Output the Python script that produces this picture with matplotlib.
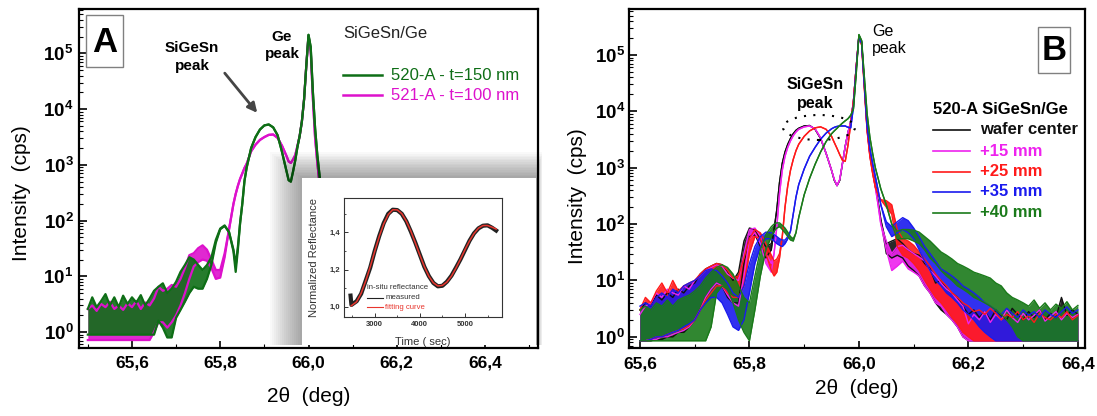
import matplotlib
matplotlib.use('Agg')
import matplotlib.pyplot as plt
import matplotlib.patches as mpatches
from matplotlib.lines import Line2D
from matplotlib.ticker import FixedLocator, LogLocator, NullFormatter
import numpy as np

plt.rcParams['font.family'] = 'Liberation Sans'
plt.rcParams['mathtext.fontset'] = 'custom'
plt.rcParams['mathtext.rm'] = 'Liberation Sans'
plt.rcParams['mathtext.bf'] = 'Liberation Sans:bold'

# ---------------- panel A : two layers, envelope of the counts (lo / hi) ----------------
theta_a = [65.50, 65.51, 65.52, 65.53, 65.54, 65.55, 65.56, 65.57, 65.58, 65.59,
           65.60, 65.61, 65.62, 65.63, 65.64, 65.65, 65.66, 65.67, 65.68, 65.69,
           65.70, 65.71, 65.72, 65.73, 65.74, 65.75, 65.76, 65.77, 65.78, 65.79,
           65.80, 65.81, 65.82, 65.83, 65.835, 65.84, 65.845, 65.85, 65.855, 65.86,
           65.87, 65.88, 65.89, 65.90, 65.91, 65.92, 65.93, 65.94, 65.95, 65.955,
           65.96, 65.965, 65.97, 65.975, 65.98, 65.985, 65.99, 65.995, 66.00, 66.005,
           66.01, 66.015, 66.02, 66.025, 66.03, 66.04]

s520_hi = [2.6, 4.2, 2.8, 3.6, 4.8, 3.0, 4.2, 2.8, 4.5, 3.2,
           4.2, 3.4, 4.6, 3.0, 4.0, 5.5, 6.5, 7.5, 5.0, 6.0,
           8.0, 12, 16, 22, 20, 16, 13, 16, 22, 45,
           72, 82, 62, 30, 16, 34, 90, 200, 520, 900,
           2000, 3150, 4300, 5100, 5300, 4700, 3400, 1700, 780, 530,
           500, 760, 1200, 2100, 3300, 6000, 15000, 60000, 215000, 130000,
           20000, 4500, 1500, 650, 300, 80]
s520_lo = [0.9, 0.9, 0.9, 0.9, 0.9, 0.9, 0.9, 0.9, 0.9, 0.9,
           0.9, 0.9, 0.9, 0.9, 0.9, 0.9, 1.6, 1.2, 0.8, 0.8,
           1.8, 2.5, 3.5, 5.0, 6.5, 6.0, 6.0, 9.0, 16, 40,
           70, 80, 62, 28, 12, 30, 90, 200, 520, 900,
           2000, 3150, 4300, 5100, 5300, 4700, 3400, 1700, 780, 530,
           500, 760, 1200, 2100, 3300, 6000, 15000, 60000, 215000, 130000,
           20000, 4500, 1500, 650, 300, 80]

s521_hi = [2.6, 3.0, 2.4, 3.2, 2.8, 3.5, 2.6, 3.0, 2.5, 3.3,
           2.8, 3.6, 2.6, 3.4, 3.0, 4.0, 6.5, 5.5, 6.0, 7.0,
           6.5, 9.0, 14, 24, 26, 32, 36, 30, 20, 13,
           13, 26, 70, 200, 300, 420, 560, 700, 880, 1050,
           1750, 2300, 2800, 3150, 3450, 3500, 3050, 2200, 1450, 1150,
           1080, 1250, 1500, 2200, 3300, 6000, 15000, 60000, 205000, 110000,
           15000, 3000, 1100, 450, 200, 60]
s521_lo = [0.72, 0.72, 0.72, 0.72, 0.72, 0.72, 0.72, 0.72, 0.72, 0.72,
           0.72, 0.72, 0.72, 0.72, 0.72, 1.0, 1.5, 1.5, 1.2, 1.5,
           2.0, 3.0, 5.0, 9.0, 15, 18, 20, 19, 14, 9.0,
           9.5, 22, 70, 200, 300, 420, 560, 700, 880, 1050,
           1750, 2300, 2800, 3150, 3450, 3500, 3050, 2200, 1450, 1150,
           1080, 1250, 1500, 2200, 3300, 6000, 15000, 60000, 205000, 110000,
           15000, 3000, 1100, 450, 200, 60]

# in-situ reflectance (inset)
time_fit = [2480, 2600, 2700, 2800, 2900, 3000, 3100, 3200, 3300, 3400, 3500,
            3600, 3700, 3800, 3900, 4000, 4100, 4200, 4300, 4400, 4500, 4600,
            4700, 4800, 4900, 5000, 5100, 5200, 5300, 5400, 5500, 5600, 5690]
refl_fit = [1.005, 1.027, 1.073, 1.138, 1.215, 1.298, 1.378, 1.446, 1.496, 1.522, 1.521,
            1.501, 1.461, 1.407, 1.344, 1.278, 1.216, 1.164, 1.129, 1.112, 1.115, 1.133,
            1.165, 1.208, 1.256, 1.307, 1.354, 1.394, 1.423, 1.437, 1.437, 1.428, 1.418]
time_meas = [2465, 2485, 2600, 2700, 2800, 2900, 3000, 3100, 3200, 3300, 3400, 3500,
             3600, 3700, 3800, 3900, 4000, 4100, 4200, 4300, 4400, 4500, 4600,
             4700, 4800, 4900, 5000, 5100, 5200, 5300, 5400, 5500, 5600, 5690]
refl_meas = [1.06, 1.01, 1.03, 1.07, 1.14, 1.21, 1.30, 1.38, 1.45, 1.50, 1.522, 1.52,
             1.50, 1.46, 1.405, 1.345, 1.28, 1.215, 1.165, 1.128, 1.11, 1.113, 1.135,
             1.167, 1.21, 1.255, 1.305, 1.355, 1.395, 1.422, 1.436, 1.438, 1.425, 1.41]

# ---------------- panel B : 520-A across the wafer ----------------
theta_b = [65.60, 65.61, 65.62, 65.63, 65.64, 65.65, 65.66, 65.67, 65.68, 65.69,
           65.70, 65.71, 65.72, 65.73, 65.74, 65.75, 65.76, 65.77, 65.78, 65.79,
           65.80, 65.81, 65.82, 65.83, 65.84,
           65.845, 65.85, 65.855, 65.86, 65.865, 65.87, 65.875, 65.88, 65.885, 65.89,
           65.90, 65.91, 65.92, 65.93, 65.94, 65.95,
           65.955, 65.96, 65.965, 65.97, 65.975, 65.98, 65.985, 65.99, 65.995, 66.00,
           66.005, 66.01, 66.015, 66.02, 66.025, 66.03, 66.035, 66.04,
           66.05, 66.06, 66.07, 66.08, 66.09, 66.10, 66.11, 66.12, 66.13, 66.14,
           66.15, 66.16, 66.17, 66.18, 66.19, 66.20, 66.21, 66.22, 66.23, 66.24,
           66.25, 66.26, 66.27, 66.28, 66.29, 66.30, 66.31, 66.32, 66.33, 66.34,
           66.35, 66.36, 66.37, 66.38, 66.39, 66.40]

center_hi = [3.0, 4.0, 3.5, 5.5, 4.5, 6.0, 5.0, 7.0, 6.0, 8.0,
             9.0, 13, 16, 18, 20, 19, 14, 10, 14, 50,
             85, 80, 55, 40, 45,
             80, 180, 550, 1200, 1900, 2600, 3300, 4000, 4600, 5000,
             5500, 5600, 4800, 3300, 1800, 900,
             600, 480, 600, 1200, 2400, 4200, 6500, 15000, 60000, 220000,
             170000, 30000, 5000, 1800, 900, 500, 250, 120,
             45, 50, 55, 45, 35, 30, 28, 20, 16, 9,
             10, 7, 6, 5, 3.5, 2.5, 3.0, 2.2, 2.8, 2.0,
             3.0, 2.4, 2.0, 3.2, 2.5, 2.0, 2.8, 2.2, 3.0, 2.0,
             2.6, 2.2, 5.0, 2.4, 3.0, 2.5]
center_lo = [0.85, 0.85, 0.85, 0.9, 0.9, 1.0, 1.0, 1.2, 1.2, 1.5,
             2.0, 3.0, 5.0, 7.0, 9.0, 8.0, 5.0, 4.0, 4.0, 20,
             60, 65, 40, 25, 35,
             80, 180, 550, 1200, 1900, 2600, 3300, 4000, 4600, 5000,
             5500, 5600, 4800, 3300, 1800, 900,
             600, 480, 600, 1200, 2400, 4200, 6500, 15000, 60000, 220000,
             170000, 30000, 5000, 1800, 900, 500, 250, 120,
             30, 25, 28, 25, 18, 15, 12, 8, 6, 4,
             3, 2.5, 2, 1.5, 1.0, 0.85, 0.85, 0.85, 0.85, 0.85,
             0.85, 0.85, 0.85, 0.85, 0.85, 0.85, 0.85, 0.85, 0.85, 0.85,
             0.85, 0.85, 0.85, 0.85, 0.85, 0.85]

p15_hi = [2.5, 3.5, 4.0, 6.0, 5.0, 7.0, 6.0, 5.5, 8.0, 7.0,
          10, 12, 15, 17, 19, 18, 13, 11, 10, 30,
          80, 85, 60, 30, 20,
          30, 90, 350, 900, 1600, 2300, 3000, 3700, 4300, 4800,
          5300, 5500, 4900, 3400, 1800, 900,
          620, 480, 620, 1200, 2400, 4200, 6500, 15000, 60000, 215000,
          160000, 28000, 4800, 1700, 850, 450, 220, 100,
          50, 30, 40, 42, 35, 30, 26, 22, 15, 12,
          9, 7, 6, 4.5, 3.5, 1.7, 2.5, 2.0, 2.8, 1.8,
          2.5, 2.0, 3.0, 2.2, 1.8, 2.6, 2.0, 2.4, 3.0, 1.9,
          2.3, 2.8, 2.0, 2.6, 2.2, 2.5]
p15_lo = [0.85, 0.85, 0.9, 0.9, 1.0, 1.0, 1.1, 1.2, 1.3, 1.5,
          2.0, 3.0, 5.0, 7.0, 9.0, 8.0, 5.5, 4.0, 3.5, 12,
          55, 70, 45, 20, 14,
          30, 90, 350, 900, 1600, 2300, 3000, 3700, 4300, 4800,
          5300, 5500, 4900, 3400, 1800, 900,
          620, 480, 620, 1200, 2400, 4200, 6500, 15000, 60000, 215000,
          160000, 28000, 4800, 1700, 850, 450, 220, 100,
          35, 15, 18, 22, 16, 14, 12, 8, 6, 4,
          3.5, 2.5, 2, 1.5, 1.0, 0.85, 0.85, 0.85, 0.85, 0.85,
          0.85, 0.85, 0.85, 0.85, 0.85, 0.85, 0.85, 0.85, 0.85, 0.85,
          0.85, 0.85, 0.85, 0.85, 0.85, 0.85]

p25_hi = [3.0, 5.0, 4.0, 6.5, 9.0, 6.0, 10, 6.5, 8.0, 9.0,
          10, 13, 16, 18, 20, 19, 15, 11, 12, 25,
          55, 80, 70, 45, 28,
          22, 24, 30, 60, 200, 480, 900, 1400, 2000, 2600,
          3600, 4500, 5100, 5300, 4800, 3600,
          2800, 2200, 1700, 1350, 1300, 2500, 6000, 15000, 60000, 210000,
          150000, 25000, 4500, 1600, 800, 450, 330, 270,
          260, 220, 80, 55, 50, 42, 32, 24, 18, 13,
          10, 8, 6, 5, 4, 3.5, 2.8, 3.0, 2.5, 3.2,
          2.6, 2.0, 2.5, 2.2, 2.8, 2.0, 2.4, 1.8, 2.6, 2.2,
          2.0, 2.5, 2.2, 2.8, 2.0, 2.4]
p25_lo = [0.85, 0.85, 0.9, 1.0, 1.0, 1.1, 1.2, 1.3, 1.4, 1.6,
          2.0, 3.0, 4.5, 6.0, 8.0, 8.0, 6.0, 5.0, 5.0, 8.0,
          30, 60, 55, 30, 15,
          12, 14, 25, 60, 200, 480, 900, 1400, 2000, 2600,
          3600, 4500, 5100, 5300, 4800, 3600,
          2800, 2200, 1700, 1350, 1300, 2500, 6000, 15000, 60000, 210000,
          150000, 25000, 4500, 1600, 800, 450, 330, 270,
          200, 150, 40, 28, 25, 20, 15, 10, 7, 5,
          4, 3, 2.2, 1.7, 1.2, 1.0, 0.85, 0.85, 0.85, 0.85,
          0.85, 0.85, 0.85, 0.85, 0.85, 0.85, 0.85, 0.85, 0.85, 0.85,
          0.85, 0.85, 0.85, 0.85, 0.85, 0.85]

p35_hi = [3.5, 4.0, 3.5, 5.0, 6.0, 5.0, 7.0, 6.0, 8.0, 9.0,
          10, 12, 15, 16, 15, 12, 9, 6, 5, 8,
          20, 40, 60, 72, 70,
          65, 60, 55, 52, 52, 60, 75, 150, 300, 500,
          950, 1600, 2300, 3200, 4100, 4900,
          5200, 5400, 5500, 5500, 5500, 5200, 5100, 12000, 55000, 210000,
          160000, 30000, 5500, 2200, 1200, 700, 400, 220,
          110, 90, 110, 130, 115, 85, 60, 40, 30, 22,
          16, 14, 12, 10, 8, 7, 6, 5, 4, 3.5,
          3.0, 2.5, 3.2, 2.6, 2.2, 3.0, 2.4, 2.8, 2.2, 3.0,
          2.5, 2.2, 2.8, 3.4, 2.6, 3.0]
p35_lo = [0.85, 0.85, 0.9, 1.0, 1.0, 1.1, 1.2, 1.3, 1.5, 1.7,
          2.0, 3.0, 4.0, 5.0, 5.0, 4.0, 2.5, 1.5, 1.3, 2.0,
          6.0, 20, 40, 55, 55,
          50, 45, 42, 40, 45, 55, 75, 150, 300, 500,
          950, 1600, 2300, 3200, 4100, 4900,
          5200, 5400, 5500, 5500, 5500, 5200, 5100, 12000, 55000, 210000,
          160000, 30000, 5500, 2200, 1200, 700, 400, 220,
          90, 60, 70, 80, 70, 55, 35, 22, 15, 10,
          8, 6, 5, 4, 3, 2.5, 2, 1.5, 1.2, 1.0,
          0.85, 0.85, 0.85, 0.85, 0.85, 0.85, 0.85, 0.85, 0.85, 0.85,
          0.85, 0.85, 0.85, 0.85, 0.85, 0.85]

p40_hi = [3.0, 3.5, 3.0, 4.0, 3.5, 4.5, 3.5, 4.5, 5.0, 5.5,
          6.5, 8.0, 11, 14, 17, 19, 17, 13, 8, 5,
          4.0, 12, 35, 65, 90,
          100, 105, 105, 95, 85, 72, 60, 55, 70, 130,
          330, 650, 1150, 1900, 2900, 4000,
          4500, 5000, 5600, 6200, 6800, 7400, 8500, 11000, 45000, 230000,
          180000, 40000, 9000, 3500, 1800, 1000, 650, 420,
          220, 100, 75, 80, 80, 78, 72, 60, 50, 40,
          32, 28, 24, 20, 18, 16, 14, 13, 12, 11,
          9, 8, 6, 5, 4.5, 4.0, 3.5, 4.5, 3.2, 4.0,
          3.0, 3.8, 3.2, 4.2, 3.0, 3.6]
p40_lo = [0.85, 0.85, 0.85, 0.85, 0.85, 0.85, 0.85, 0.85, 0.85, 0.85,
          0.85, 0.85, 0.85, 1.5, 6.0, 8.0, 7.0, 4.0, 2.0, 1.2,
          0.85, 3.0, 12, 35, 60,
          75, 85, 90, 80, 70, 60, 52, 50, 70, 130,
          330, 650, 1150, 1900, 2900, 4000,
          4500, 5000, 5600, 6200, 6800, 7400, 8500, 11000, 45000, 230000,
          180000, 40000, 9000, 3500, 1800, 1000, 650, 420,
          220, 100, 55, 55, 55, 50, 45, 35, 25, 20,
          15, 12, 10, 8, 7, 6, 5, 4.5, 4, 3.5,
          3, 2.5, 2, 1.5, 1.0, 0.85, 0.85, 0.85, 0.85, 0.85,
          0.85, 0.85, 0.85, 0.85, 0.85, 0.85]

x_ticks = [65.6, 65.8, 66.0, 66.2, 66.4]
x_ticklabels = ['65,6', '65,8', '66,0', '66,2', '66,4']
y_ticks = [1, 10, 100, 1e3, 1e4, 1e5]
y_ticklabels = [r'$\mathbf{10^{0}}$', r'$\mathbf{10^{1}}$', r'$\mathbf{10^{2}}$',
                r'$\mathbf{10^{3}}$', r'$\mathbf{10^{4}}$', r'$\mathbf{10^{5}}$']
inset_xticks = [3000, 4000, 5000]
inset_yticks = [1.0, 1.2, 1.4]
inset_yticklabels = ['1,0', '1,2', '1,4']

W, H = 1097, 416
fig = plt.figure(figsize=(W / 100, H / 100), dpi=100)


def fx(px):
    return px / W


def fy(py):
    return 1 - py / H


def band(ax, x, lo, hi, color, lw):
    ax.fill_between(x, lo, hi, color=color, lw=0, alpha=0.9)
    ax.plot(x, hi, color=color, lw=lw)
    ax.plot(x, lo, color=color, lw=lw)


def xrd_axes(rect, xlim, ylim, pad_x, pad_y):
    ax = fig.add_axes(rect)
    ax.set_yscale('log')
    ax.set_xlim(*xlim)
    ax.set_ylim(*ylim)
    ax.set_xticks(x_ticks)
    ax.set_xticklabels(x_ticklabels, fontweight='bold', fontsize=12.5)
    ax.xaxis.set_minor_locator(FixedLocator([65.5, 65.7, 65.9, 66.1, 66.3, 66.5]))
    ax.set_yticks(y_ticks)
    ax.set_yticklabels(y_ticklabels, fontsize=13.5)
    ax.yaxis.set_minor_locator(LogLocator(base=10, subs=np.arange(2, 10), numticks=30))
    ax.yaxis.set_minor_formatter(NullFormatter())
    ax.tick_params(which='both', direction='in', top=False, right=False)
    ax.tick_params(axis='x', which='major', length=5, width=1.2, pad=pad_x)
    ax.tick_params(axis='y', which='major', length=6, width=1.2, pad=pad_y)
    ax.tick_params(which='minor', length=3, width=0.8)
    for s in ax.spines.values():
        s.set_linewidth(1.6)
    return ax


# ---------------- panel A ----------------
ax_a = xrd_axes([fx(79), fy(348), (538 - 79) / W, (348 - 9.3) / H],
                (65.48, 66.52), (0.518, 6.17e5), 5.5, 4)
band(ax_a, theta_a, s521_lo, s521_hi, '#dd11cc', 1.6)
band(ax_a, theta_a, s520_lo, s520_hi, '#0e6e16', 1.6)
ax_a.set_ylabel('Intensity  (cps)', fontsize=15, va='center')
ax_a.yaxis.set_label_coords(-0.126, 0.457)
ax_a.set_xlabel('2θ  (deg)', fontsize=15, va='center')
ax_a.xaxis.set_label_coords(0.5, -0.1445)

fig.add_artist(mpatches.Rectangle((fx(86), fy(67)), 37 / W, 52 / H, transform=fig.transFigure,
                                  fc='white', ec='#808080', lw=1.0, zorder=3))
fig.text(fx(104.5), fy(42), 'A', fontsize=25, fontweight='bold', ha='center', va='center', zorder=4)
fig.text(fx(192), fy(57), 'SiGeSn\npeak', fontsize=11, fontweight='bold', ha='center',
         va='center', linespacing=1.3)
fig.text(fx(282), fy(45.5), 'Ge\npeak', fontsize=11, fontweight='bold', ha='center',
         va='center', linespacing=1.3)
fig.add_artist(mpatches.FancyArrowPatch((fx(223), fy(71)), (fx(259), fy(115)),
                                        transform=fig.transFigure, arrowstyle='-|>',
                                        mutation_scale=14, color='#454545', lw=2))
fig.text(fx(343), fy(33), 'SiGeSn/Ge', fontsize=12, ha='left', va='center', color='#222222')
for py, label, col in [(75, '520-A - t=150 nm', '#0e6e16'), (95, '521-A - t=100 nm', '#dd11cc')]:
    fig.add_artist(Line2D([fx(343), fx(382)], [fy(py), fy(py)], transform=fig.transFigure,
                          color=col, lw=1.8))
    fig.text(fx(391), fy(py), label, fontsize=12, color=col, ha='left', va='center')

# inset with soft shadow
for k in range(1, 17):
    d = 2 * k
    fig.add_artist(mpatches.Rectangle((fx(302 - d), fy(345)), (234 + 1.2 * d) / W,
                                      (167 + 0.8 * d) / H, transform=fig.transFigure,
                                      fc='black', ec='none', alpha=0.022, zorder=5))
fig.add_artist(mpatches.Rectangle((fx(302), fy(345)), 234 / W, 167 / H,
                                  transform=fig.transFigure, fc='white', ec='none', zorder=6))

ax_in = fig.add_axes([fx(344), fy(317), 158 / W, 119 / H])
ax_in.set_zorder(10)
ax_in.plot(time_meas, refl_meas, color='#222222', lw=3.0)
ax_in.plot(time_fit, refl_fit, color='#e8362e', lw=1.1)
ax_in.set_xlim(2320, 5820)
ax_in.set_ylim(0.945, 1.585)
ax_in.set_xticks(inset_xticks)
ax_in.set_xticklabels([str(t) for t in inset_xticks], fontsize=5.5, fontweight='bold')
ax_in.set_yticks(inset_yticks)
ax_in.set_yticklabels(inset_yticklabels, fontsize=5.5, fontweight='bold')
ax_in.xaxis.set_minor_locator(FixedLocator([2500, 3500, 4500, 5500]))
ax_in.yaxis.set_minor_locator(FixedLocator([1.1, 1.3, 1.5]))
ax_in.tick_params(which='both', direction='in', top=False, right=False, colors='#333333')
ax_in.tick_params(which='major', length=3, width=0.7, pad=3)
ax_in.tick_params(which='minor', length=1.5, width=0.6)
for s in ax_in.spines.values():
    s.set_linewidth(0.8)
    s.set_color('#333333')
ax_in.set_xlabel('Time ( sec)', fontsize=8, va='center', color='#333333')
ax_in.xaxis.set_label_coords(0.5, -0.21)
ax_in.set_ylabel('Normalized Reflectance', fontsize=8, va='center', color='#333333')
ax_in.yaxis.set_label_coords(-0.19, 0.5)
ax_in.text(0.146, 0.244, 'in-situ reflectance', transform=ax_in.transAxes, fontsize=5.6,
           color='#333333', va='center')
ax_in.plot([0.146, 0.247], [0.160, 0.160], transform=ax_in.transAxes, color='#222222', lw=0.8)
ax_in.text(0.26, 0.160, 'measured', transform=ax_in.transAxes, fontsize=5.6,
           color='#333333', va='center')
ax_in.plot([0.146, 0.247], [0.084, 0.084], transform=ax_in.transAxes, color='#e8362e', lw=0.8)
ax_in.text(0.26, 0.084, 'fitting curve', transform=ax_in.transAxes, fontsize=5.6,
           color='#e8362e', va='center')

# ---------------- panel B ----------------
ax_b = xrd_axes([fx(629), fy(347.5), (1085 - 629) / W, (347.5 - 9.3) / H],
                (65.58, 66.413), (0.646, 6.46e5), 6.5, 3)
positions = [('wafer center', center_lo, center_hi, '#111111'),
             ('+15 mm', p15_lo, p15_hi, '#ee22ee'),
             ('+25 mm', p25_lo, p25_hi, '#ff1a1a'),
             ('+35 mm', p35_lo, p35_hi, '#1a1aee'),
             ('+40 mm', p40_lo, p40_hi, '#1a7a1a')]
for name, lo, hi, col in positions:
    band(ax_b, theta_b, lo, hi, col, 1.0)
ax_b.set_ylabel('Intensity  (cps)', fontsize=15, va='center')
ax_b.yaxis.set_label_coords(-0.114, 0.448)
ax_b.set_xlabel('2θ  (deg)', fontsize=15, va='center')
ax_b.xaxis.set_label_coords(0.5, -0.12)

fig.add_artist(mpatches.Rectangle((fx(1038), fy(73)), 32 / W, 46 / H, transform=fig.transFigure,
                                  fc='white', ec='#808080', lw=1.0, zorder=3))
fig.text(fx(1054), fy(50), 'B', fontsize=25, fontweight='bold', ha='center', va='center', zorder=4)
fig.text(fx(872), fy(40), 'Ge\npeak', fontsize=11.5, ha='left', va='center', linespacing=1.25)
fig.text(fx(815), fy(94), 'SiGeSn\npeak', fontsize=11.5, fontweight='bold', ha='center',
         va='center', linespacing=1.35)
fig.add_artist(mpatches.Ellipse((fx(819), fy(127.5)), 72 / W, 25 / H, transform=fig.transFigure,
                                fill=False, ec='black', lw=1.5, ls=(0, (1, 3.5)), zorder=4))

fig.text(fx(933), fy(110), '520-A SiGeSn/Ge', fontsize=12, fontweight='bold', ha='left', va='center')
for (name, lo, hi, col), py in zip(positions, [130, 151, 172, 192, 213]):
    fig.add_artist(Line2D([fx(933), fx(970)], [fy(py), fy(py)], transform=fig.transFigure,
                          color=col, lw=1.2))
    fig.text(fx(980), fy(py), name, fontsize=12, fontweight='bold', color=col,
             ha='left', va='center')

fig.savefig('out.png', dpi=100)
